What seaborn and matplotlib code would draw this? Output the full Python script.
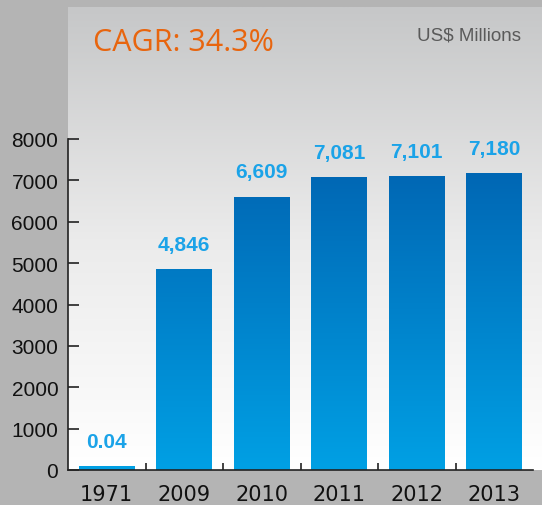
import numpy as np
import pandas as pd
import matplotlib
matplotlib.use('Agg')
import matplotlib.pyplot as plt
from matplotlib.colors import LinearSegmentedColormap
from matplotlib.ticker import FixedLocator
import seaborn as sns

# data
years = ['1971', '2009', '2010', '2011', '2012', '2013']
revenue = [0.04, 4846, 6609, 7081, 7101, 7180]
labels = ['0.04', '4,846', '6,609', '7,081', '7,101', '7,180']
min_bar = 100  # the 1971 sliver is drawn at about this height

df = pd.DataFrame({'year': years, 'revenue': [max(v, min_bar) for v in revenue]})

sns.set_style('white')
plt.rcParams['font.family'] = ['Liberation Sans', 'DejaVu Sans']

W, H = 542, 506
fig = plt.figure(figsize=(W / 100, H / 100), dpi=100, facecolor='#b4b4b4')

# light panel behind the plot
bg = fig.add_axes([68 / W, 35 / H, (W - 68) / W, (471 - 8) / H])
panel = LinearSegmentedColormap.from_list('panel', ['#ffffff', '#ebebeb', '#c6c7c8'])
bg.imshow(np.linspace(0, 1, 256).reshape(-1, 1), cmap=panel, aspect='auto',
          origin='lower', extent=[0, 1, 0, 1])
bg.set_axis_off()

ax = fig.add_axes([68 / W, 35 / H, (533 - 68) / W, (471 - 8) / H])
ax.patch.set_alpha(0)
ytop = (471 - 8) / (471 - 140) * 8000

sns.barplot(data=df, x='year', y='revenue', order=years, width=0.72,
            color='#009fe3', ax=ax, zorder=2)

# blue gradient inside each bar, darker towards the top
bar_cmap = LinearSegmentedColormap.from_list('bars', ['#00a0e4', '#0067b4'])
for p in ax.patches:
    x0, y0 = p.get_x(), p.get_y()
    w, h = p.get_width(), p.get_height()
    grad = np.linspace(0, h / 7200, 128).reshape(-1, 1)
    im = ax.imshow(grad, cmap=bar_cmap, vmin=0, vmax=1, aspect='auto', origin='lower',
                   extent=[x0, x0 + w, y0, y0 + h], zorder=2)
    im.set_clip_path(p)
    p.set_facecolor('none')
    p.set_edgecolor('none')

for i, (v, lab) in enumerate(zip(df['revenue'], labels)):
    ax.annotate(lab, (i, v), xytext=(0, 11), textcoords='offset points',
                ha='center', va='bottom', color='#1ba3e8', fontsize=15,
                fontweight='bold', family=['Liberation Sans'])

ax.set_xlim(-0.5, 5.5)
ax.set_ylim(0, ytop)
ax.set_xlabel('')
ax.set_ylabel('')
ax.set_yticks(range(0, 8001, 1000))
ax.xaxis.set_minor_locator(FixedLocator([0.5, 1.5, 2.5, 3.5, 4.5]))
ax.tick_params(axis='y', direction='in', length=8, width=1.2, color='#222222',
               pad=7, labelsize=15, labelcolor='#111111', left=True)
ax.tick_params(axis='x', which='major', length=0, pad=10, labelsize=15,
               labelcolor='#111111')
ax.tick_params(axis='x', which='minor', direction='in', length=5, width=1.2,
               color='#222222', bottom=True)
for t in ax.get_xticklabels():
    t.set_family('DejaVu Sans')
for s in ['top', 'right']:
    ax.spines[s].set_visible(False)
ax.spines['left'].set_bounds(0, 8000)
for s in ['left', 'bottom']:
    ax.spines[s].set_color('#222222')
    ax.spines[s].set_linewidth(1.2)

fig.text(93 / W, 1 - 43 / H, 'CAGR: 34.3%', color='#e8650e', fontsize=22,
         ha='left', va='center', family=['Open Sans'])
fig.text(521 / W, 1 - 36 / H, 'US$ Millions', color='#5a5a5a', fontsize=13.5,
         ha='right', va='center')

fig.savefig('out.png', dpi=100, facecolor=fig.get_facecolor())
